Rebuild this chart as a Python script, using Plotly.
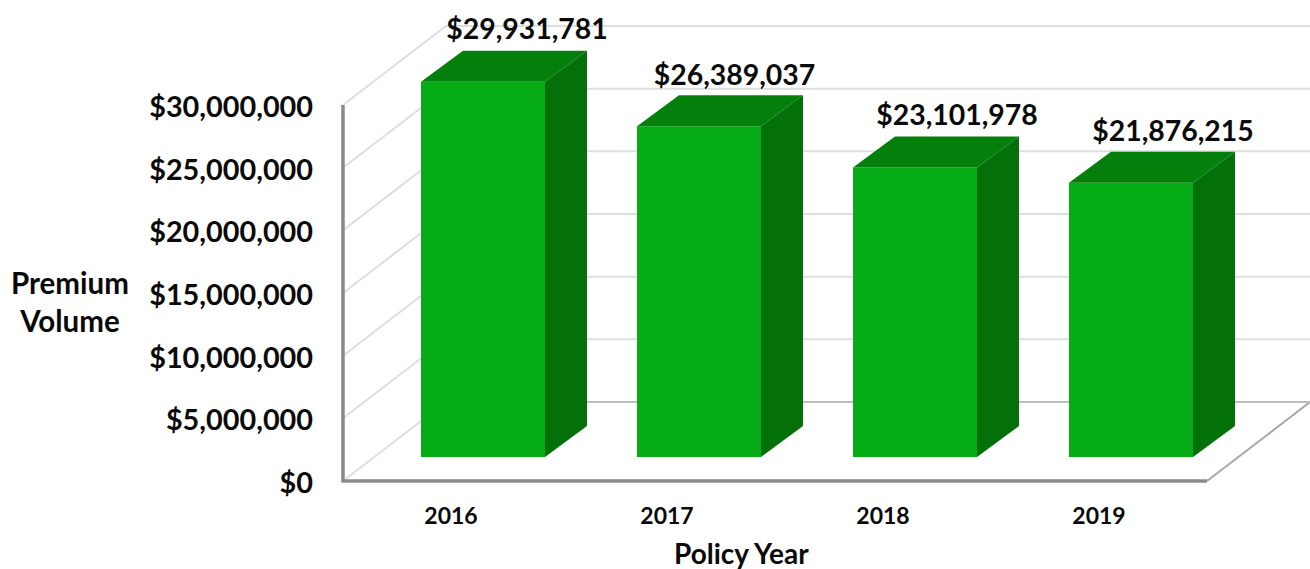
import plotly.graph_objects as go

# ---- data ----
years = ["2016", "2017", "2018", "2019"]
premium = [29931781, 26389037, 23101978, 21876215]
y_ticks = [0, 5000000, 10000000, 15000000, 20000000, 25000000, 30000000]
y_labels = ["$0", "$5,000,000", "$10,000,000", "$15,000,000", "$20,000,000", "$25,000,000", "$30,000,000"]

# ---- geometry of the faux-3D look (styles, expressed as pixels per unit) ----
W, H = 1310, 569
PL, PR, PT, PB = 335, 1310, 0, 490       # plot box in the figure
X0_PX, Y0_PX = 343, 481                  # where category edge -0.5 and value 0 sit
PX_PER_CAT = 216.0
VAL_PER_PX = 30000000 / 376.0

def dx(px):
    return px / PX_PER_CAT

def dy(px):
    return px * VAL_PER_PX

x_range = [-0.5 - dx(X0_PX - PL), -0.5 + dx(PR - X0_PX)]
y_range = [-dy(PB - Y0_PX), dy(Y0_PX - PT)]

cats = list(range(len(years)))
BAR_W = dx(124)
BAR_DX, BAR_DY = dx(32), dy(24)          # bar front face offset from the axis plane
DEPTH_X, DEPTH_Y = dx(42), dy(31)        # bar depth
WALL_X, WALL_Y = dx(103), dy(79)         # wall/floor depth
X_L, X_R = -0.5, len(years) - 0.5

GREEN_FRONT = "#05ac16"
GREEN_TOP = "#057f0b"
GREEN_SIDE = "#03700a"
GRID = "#dedede"
FONT = "Lato"
INK = "#0a0a0a"

fig = go.Figure()

# walls: gridlines run along the side wall then the back wall
for t in y_ticks:
    fig.add_trace(go.Scatter(
        x=[X_L, X_L + WALL_X, x_range[1]],
        y=[t, t + WALL_Y, t + WALL_Y],
        mode="lines", line=dict(color=GRID, width=2),
        hoverinfo="skip", showlegend=False))

# floor edge on the right
fig.add_trace(go.Scatter(
    x=[X_R, x_range[1]], y=[0, WALL_Y * (x_range[1] - X_R) / WALL_X],
    mode="lines", line=dict(color="#a8a8a8", width=2),
    hoverinfo="skip", showlegend=False))
# back floor edge
fig.add_trace(go.Scatter(
    x=[X_L + WALL_X, x_range[1]], y=[WALL_Y, WALL_Y],
    mode="lines", line=dict(color="#bdbdbd", width=2),
    hoverinfo="skip", showlegend=False))
# front axis lines
fig.add_trace(go.Scatter(
    x=[X_L, X_L, X_R], y=[y_ticks[-1], 0, 0],
    mode="lines", line=dict(color="#8a8a8a", width=3.5),
    hoverinfo="skip", showlegend=False))

# bar fronts
fig.add_trace(go.Bar(
    x=[c + BAR_DX for c in cats], y=premium, base=[BAR_DY] * len(cats),
    width=BAR_W, marker=dict(color=GREEN_FRONT, line=dict(width=0)),
    xaxis="x2", yaxis="y2", showlegend=False, hoverinfo="skip"))

# bar tops and sides
for c, v in zip(cats, premium):
    left = c + BAR_DX - BAR_W / 2
    right = c + BAR_DX + BAR_W / 2
    top = v + BAR_DY
    fig.add_trace(go.Scatter(
        x=[left, right, right + DEPTH_X, left + DEPTH_X, left],
        y=[top, top, top + DEPTH_Y, top + DEPTH_Y, top],
        mode="lines", fill="toself", fillcolor=GREEN_TOP, line=dict(width=0),
        xaxis="x2", yaxis="y2", showlegend=False, hoverinfo="skip"))
    fig.add_trace(go.Scatter(
        x=[right, right + DEPTH_X, right + DEPTH_X, right, right],
        y=[BAR_DY, BAR_DY + DEPTH_Y, top + DEPTH_Y, top, BAR_DY],
        mode="lines", fill="toself", fillcolor=GREEN_SIDE, line=dict(width=0),
        xaxis="x2", yaxis="y2", showlegend=False, hoverinfo="skip"))

# value labels (offsets from bar front top, px)
label_off_x = [44, 35.5, 42, 42]
label_off_y = [50, 48, 50, 49]
fig.add_trace(go.Scatter(
    x=[c + BAR_DX + dx(o) for c, o in zip(cats, label_off_x)],
    y=[v + BAR_DY + dy(o) for v, o in zip(premium, label_off_y)],
    mode="text", text=[f"${v:,}" for v in premium],
    textposition="middle center", cliponaxis=False,
    textfont=dict(family=FONT, size=28.4, color=INK, weight=700),
    xaxis="x2", yaxis="y2", showlegend=False, hoverinfo="skip"))

fig.update_layout(
    width=W, height=H, autosize=False,
    margin=dict(l=PL, r=W - PR, t=PT, b=H - PB),
    paper_bgcolor="white", plot_bgcolor="white",
    barmode="overlay",
    xaxis=dict(range=x_range, tickmode="array", tickvals=cats, ticktext=years,
               showgrid=False, zeroline=False, showline=False, ticks="",
               ticklabelstandoff=10,
               tickfont=dict(family=FONT, size=23, color=INK, weight=700)),
    yaxis=dict(range=y_range, tickmode="array", tickvals=y_ticks, ticktext=y_labels,
               showgrid=False, zeroline=False, showline=False, ticks="",
               ticklabelstandoff=21, ticklabelshift=2,
               tickfont=dict(family=FONT, size=28.8, color=INK, weight=700)),
    xaxis2=dict(range=x_range, overlaying="x", visible=False),
    yaxis2=dict(range=y_range, overlaying="y", visible=False),
    annotations=[
        dict(text="Premium<br>Volume", xref="paper", yref="paper",
             x=(69.5 - PL) / (PR - PL), y=(PB - 301) / (PB - PT),
             xanchor="center", yanchor="middle", showarrow=False, align="center",
             font=dict(family=FONT, size=29.5, color=INK, weight=700)),
        dict(text="Policy Year", xref="paper", yref="paper",
             x=(741 - PL) / (PR - PL), y=(PB - 553) / (PB - PT),
             xanchor="center", yanchor="middle", showarrow=False,
             font=dict(family=FONT, size=28, color=INK, weight=700)),
    ],
)

# The page is shown at exactly the figure's size: no default body margin, no scrollbars.
fig.write_html("out.html",
               config={"displayModeBar": False},
               post_script="document.body.style.margin='0';"
                           "document.documentElement.style.overflow='hidden';")
